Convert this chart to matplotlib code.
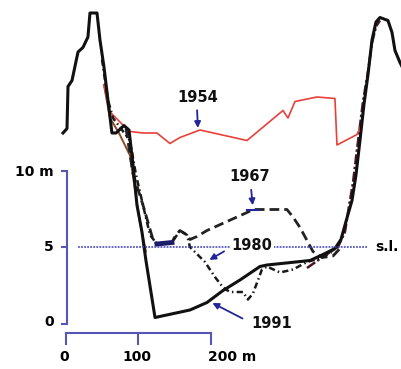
import matplotlib.pyplot as plt

# cross-section profiles: distance (m) and elevation (m)
dist_1991 = [-4.1, 1.4, 2.8, 8.3, 16.6, 23.4, 30.3, 33.1, 42.8, 46.9, 52.4, 57.9, 63.4, 69.0,
             80.0, 86.9, 92.4, 97.9, 104.8, 110.3, 122.8, 171.0, 194.5, 216.6, 240.0, 267.6,
             277.2, 336.6, 354.5, 371.0, 379.3, 386.2, 394.5, 400.0, 405.5, 411.0, 416.6,
             422.1, 427.6, 433.1, 444.1, 449.7, 453.8, 460.7, 464.8]
elev_1991 = [12.6, 12.9, 15.7, 16.1, 18.0, 18.3, 19.0, 20.6, 20.6, 18.8, 17.0, 14.8, 12.6, 12.6,
             13.1, 12.8, 10.5, 7.8, 6.0, 4.1, 0.3, 0.8, 1.3, 2.1, 2.8, 3.7,
             3.8, 4.1, 4.5, 4.9, 5.5, 6.7, 8.1, 9.8, 12.1, 14.5, 16.5,
             18.8, 20.0, 20.3, 20.1, 19.3, 18.1, 17.3, 16.9]

dist_1954 = [52.4, 60.7, 81.4, 88.3, 106.2, 125.5, 143.4, 157.2, 184.8, 249.7, 299.3, 306.2,
             315.9, 346.2, 371.0, 373.8, 401.4, 406.9]
elev_1954 = [15.8, 14.0, 13.0, 12.7, 12.6, 12.6, 11.9, 12.3, 12.8, 12.1, 14.1, 13.6,
             14.7, 15.0, 14.9, 11.8, 12.5, 13.1]

dist_1967 = [82.8, 92.4, 106.2, 120.0, 125.5, 146.2, 150.3, 157.2, 166.9, 171.0, 180.7, 194.5,
             249.7, 257.9, 304.8, 313.1, 322.8, 340.7, 353.1, 368.3, 377.9]
elev_1967 = [12.9, 9.9, 7.8, 5.5, 5.2, 5.3, 5.7, 6.1, 5.8, 5.5, 5.7, 6.1,
             7.3, 7.5, 7.5, 7.0, 6.3, 4.7, 4.3, 4.4, 4.9]

dist_1980 = [49.7, 57.9, 64.8, 88.3, 96.6, 106.2, 115.9, 125.5, 146.2, 157.2, 166.9, 171.0,
             191.7, 205.5, 216.6, 226.2, 244.1, 251.0, 257.9, 270.3, 277.2, 295.2, 313.1,
             332.4, 353.1, 371.0]
elev_1980 = [17.5, 14.8, 13.6, 12.1, 9.8, 7.8, 5.8, 5.2, 5.3, 6.1, 5.8, 5.0,
             4.0, 3.0, 2.3, 2.0, 2.0, 1.5, 1.9, 3.5, 3.7, 3.3, 3.5,
             4.0, 4.3, 4.8]

# darker banks drawn next to the main profile
dist_rbank = [332.4, 353.1, 375.2, 384.8, 390.3, 395.9, 401.4, 409.7, 416.6, 422.1, 427.6, 433.1]
elev_rbank = [3.6, 4.3, 5.0, 6.0, 7.7, 9.3, 11.5, 14.7, 16.7, 18.6, 19.7, 20.1]
dist_lbank = [52.4, 60.7, 73.1, 88.3, 95.2, 102.1, 110.3]
elev_lbank = [15.8, 13.6, 12.6, 11.1, 8.8, 6.6, 4.7]

# thick ledge where 1967 and 1980 overlap
dist_ledge = [125.5, 146.2]
elev_ledge = [5.2, 5.3]

sea_level = 5
sea_from, sea_to = 16.6, 416.6

xticks = [0, 100, 200]
xtick_labels = ['0', '100', '200 m']
yticks = [0, 5, 10]
ytick_labels = ['0', '5', '10 m']

blue = '#23239a'
axcol = '#5656b4'

fig = plt.figure(figsize=(4.01, 3.69), dpi=100)
ax = fig.add_axes([0, 0, 1, 1])
ax.set_xlim(-91.0, 462.1)
ax.set_ylim(-3.133, 21.467)
ax.axis('off')

# sea level
ax.plot([sea_from, sea_to], [sea_level, sea_level], color='#3c3cb4', lw=1.1,
        linestyle=(0, (1.2, 0.8)), zorder=5)

ax.plot(dist_lbank, elev_lbank, color='#8a4a25', lw=1.4, zorder=2)
ax.plot(dist_rbank, elev_rbank, color='#4a1526', lw=1.8, dashes=(4, 1, 1, 1), zorder=2)
ax.plot(dist_1954, elev_1954, color='#e8403a', lw=1.2, zorder=3)
ax.plot(dist_1967, elev_1967, color='#222222', lw=2.0, dashes=(3.5, 1.8), zorder=3)
ax.plot(dist_1980, elev_1980, color='#1a1a1a', lw=1.8, dashes=(2.5, 1.3, 0.6, 1.3), zorder=3)
ax.plot(dist_ledge, elev_ledge, color='#1c1c6a', lw=3.5, zorder=4)
ax.plot(dist_1991, elev_1991, color='#111111', lw=2.2, zorder=4)

# labels and arrows
tk = dict(fontsize=10.5, fontweight='bold', ha='center', va='center', color='#111111')
ax.text(181.4, 15.0, '1954', **tk)
ax.text(253.8, 9.73, '1967', **tk)
ax.text(256.6, 5.07, '1980', zorder=6,
        bbox=dict(facecolor='white', edgecolor='none', pad=1.5), **tk)
ax.text(284.1, -0.07, '1991', **tk)
ax.text(427.0, 5.0, 's.l.', fontsize=10, fontweight='bold', ha='left', va='center')

arr = dict(arrowstyle='-|>', color=blue, lw=1.3, mutation_scale=9)
ax.annotate('', xy=(182.1, 12.75), xytext=(180.7, 14.3), arrowprops=arr, zorder=6)
ax.annotate('', xy=(257.9, 7.6), xytext=(255.1, 9.0), arrowprops=arr, zorder=6)
ax.plot([250.0, 264.8], [7.47, 7.47], color=blue, lw=1.5, zorder=6)
ax.annotate('', xy=(194.5, 4.05), xytext=(221.4, 4.8), arrowprops=arr, zorder=6)
ax.annotate('', xy=(198.6, 1.35), xytext=(246.9, 0.15), arrowprops=arr, zorder=6)

# scale bars
ax.plot([-6.0, 0.9, 0.9, -6.0], [10.1, 10.1, -0.1, -0.1], color=axcol, lw=1.5,
        solid_joinstyle='miter')
ax.plot([-6.0, 0.9], [5, 5], color=axcol, lw=1.5)
for t, lab in zip(yticks, ytick_labels):
    ax.text(-16.6, t, lab, fontsize=10, fontweight='bold', ha='right', va='center')

ax.plot([0, 200], [-0.73, -0.73], color=axcol, lw=1.5)
for t, lab in zip(xticks, xtick_labels):
    ax.plot([t, t], [-0.73, -1.45], color=axcol, lw=1.5)
    ax.text(t - 2 if lab != '200 m' else t - 4, -2.33, lab, fontsize=10, fontweight='bold',
            ha='center' if lab != '200 m' else 'left', va='center')

plt.savefig('out.png', dpi=100)
